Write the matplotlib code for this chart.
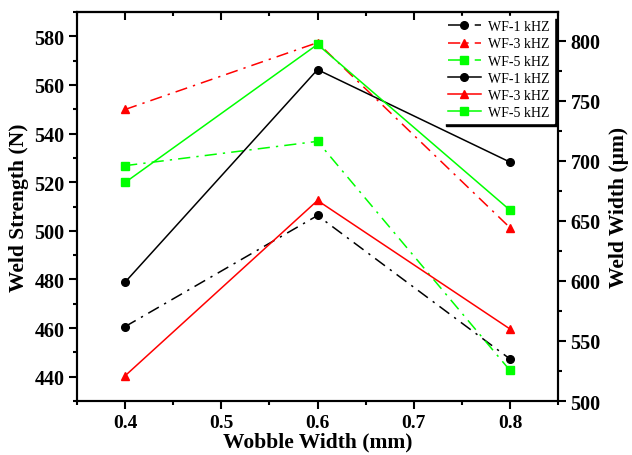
import matplotlib
matplotlib.use("Agg")
import matplotlib.pyplot as plt
from matplotlib.ticker import MultipleLocator, NullFormatter

plt.rcParams['font.family'] = ['Liberation Serif', 'DejaVu Serif']

wobble = [0.4, 0.6, 0.8]

# weld strength (N), dash-dot lines, left axis
strength_wf1 = [460.6, 506.3, 447.3]
strength_wf3 = [549.9, 577.4, 501.3]
strength_wf5 = [526.8, 536.8, 442.6]

# weld width (um), solid lines, right axis
width_wf1 = [599, 776, 699]
width_wf3 = [521, 667, 560]
width_wf5 = [682, 797, 659]

labels = ['WF-1 kHZ', 'WF-3 kHZ', 'WF-5 kHZ']
colors = ['black', '#ff0000', '#00ff00']
markers = ['o', '^', 's']

fig = plt.figure(figsize=(6.32, 4.56), dpi=100)
ax = fig.add_axes([0.1218, 0.1184, 0.7612, 0.8531])
ax2 = ax.twinx()

dashdot = (0, (8, 4, 1.5, 4))
handles = []
for ys, c, m, lab in zip([strength_wf1, strength_wf3, strength_wf5], colors, markers, labels):
    h, = ax.plot(wobble, ys, color=c, marker=m, markersize=5.5, lw=1.1,
                 linestyle=dashdot, label=lab)
    handles.append(h)
for ys, c, m, lab in zip([width_wf1, width_wf3, width_wf5], colors, markers, labels):
    h, = ax2.plot(wobble, ys, color=c, marker=m, markersize=5.5, lw=1.1,
                  linestyle='-', label=lab)
    handles.append(h)

ax.set_xlim(0.35, 0.85)
ax.set_ylim(430, 590)
ax2.set_ylim(500, 824)

ax.xaxis.set_major_locator(MultipleLocator(0.1))
ax.xaxis.set_minor_locator(MultipleLocator(0.05))
ax.yaxis.set_major_locator(MultipleLocator(20))
ax.yaxis.set_minor_locator(MultipleLocator(10))
ax2.yaxis.set_major_locator(MultipleLocator(50))
ax2.yaxis.set_minor_locator(MultipleLocator(25))

for a in (ax, ax2):
    for s in a.spines.values():
        s.set_linewidth(1.5)

# top ticks point inwards
top = ax.secondary_xaxis('top')
top.xaxis.set_major_locator(MultipleLocator(0.1))
top.xaxis.set_minor_locator(MultipleLocator(0.05))
top.xaxis.set_major_formatter(NullFormatter())
top.tick_params(which='both', direction='in', width=1.5)
top.tick_params(which='major', length=6)
top.tick_params(which='minor', length=3)
top.spines['top'].set_linewidth(1.5)

ax.tick_params(axis='x', which='both', direction='out', width=1.5)
ax.tick_params(axis='x', which='major', length=6, labelsize=14, pad=3)
ax.tick_params(axis='x', which='minor', length=3)
ax.tick_params(axis='y', which='both', direction='out', width=1.5)
ax.tick_params(axis='y', which='major', length=6, labelsize=14.5, pad=3)
ax.tick_params(axis='y', which='minor', length=3)
ax2.tick_params(axis='y', which='both', direction='out', width=1.5)
ax2.tick_params(axis='y', which='major', length=6, labelsize=14.5, pad=3)
ax2.tick_params(axis='y', which='minor', length=3)

for t in ax.get_xticklabels() + ax.get_yticklabels() + ax2.get_yticklabels():
    t.set_fontweight('bold')

ax.set_xlabel('Wobble Width (mm)', fontsize=15.5, fontweight='bold', labelpad=1)
ax.set_ylabel('Weld Strength (N)', fontsize=15.5, fontweight='bold', labelpad=4)
ax2.set_ylabel('Weld Width (µm)', fontsize=15.5, fontweight='bold', labelpad=6)

leg = ax2.legend(handles=handles, loc='upper right', fontsize=10,
                 borderaxespad=0.3, handlelength=2.4, labelspacing=0.3,
                 handletextpad=0.5, borderpad=0.3,
                 fancybox=False, framealpha=1, edgecolor='white',
                 shadow={'color': 'black', 'alpha': 1})

fig.savefig('out.png', dpi=100)
